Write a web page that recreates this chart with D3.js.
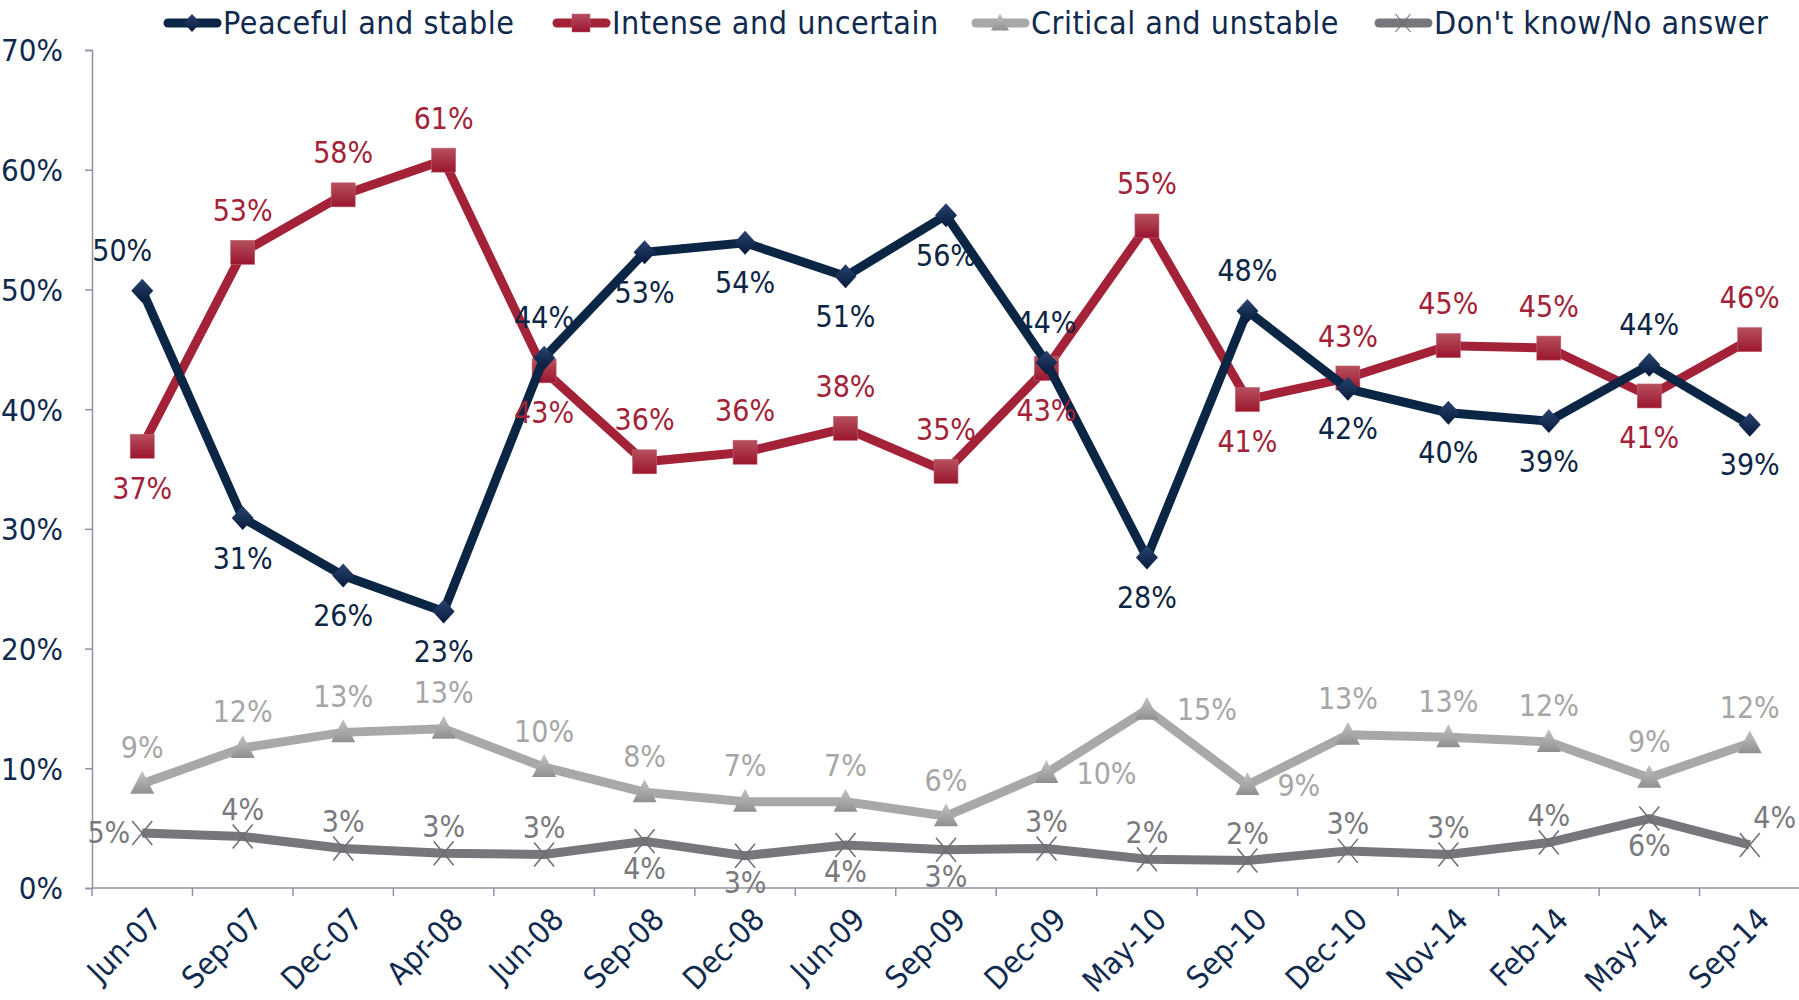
<!DOCTYPE html>
<html>
<head>
<meta charset="utf-8">
<script src="https://cdn.jsdelivr.net/npm/d3@7"></script>
<style>
  body { margin: 0; background: #fff; }
  text { font-family: "Liberation Sans Narrow", "DejaVu Sans Condensed", "Liberation Sans", sans-serif; }
</style>
</head>
<body>
<div id="chart"></div>
<script>
// Survey waves
const categories = ["Jun-07", "Sep-07", "Dec-07", "Apr-08", "Jun-08", "Sep-08", "Dec-08", "Jun-09", "Sep-09",
  "Dec-09", "May-10", "Sep-10", "Dec-10", "Nov-14", "Feb-14", "May-14", "Sep-14"];

// Series values (%)
const peaceful = [49.9, 30.9, 26.1, 23.1, 44.3, 53.1, 53.9, 51.1, 56.2, 43.9, 27.6, 48.2, 41.7, 39.7, 39.0, 43.7, 38.7];
const intense = [36.9, 53.1, 57.9, 60.8, 43.2, 35.6, 36.4, 38.4, 34.8, 43.4, 55.3, 40.8, 42.6, 45.3, 45.1, 41.1, 45.8];
const critical = [8.7, 11.7, 13.0, 13.3, 10.1, 8.0, 7.2, 7.2, 6.0, 9.6, 14.9, 8.6, 12.8, 12.6, 12.2, 9.2, 12.1];
const dontKnow = [4.6, 4.3, 3.3, 2.9, 2.8, 3.9, 2.7, 3.6, 3.2, 3.3, 2.4, 2.3, 3.1, 2.8, 3.8, 5.8, 3.6];

const seriesNames = ["Peaceful and stable", "Intense and uncertain", "Critical and unstable", "Don't know/No answer"];
const yTicks = [0, 10, 20, 30, 40, 50, 60, 70];

// where each data label sits relative to its point
const peacefulPos = ["TL", "B", "B", "B", "T", "B", "B", "B", "B", "T", "B", "T", "B", "B", "B", "T", "B"];
const intensePos = ["B", "T", "T", "T", "B", "T", "T", "T", "T", "B", "T", "B", "T", "T", "T", "B", "T"];
const criticalPos = ["T", "T", "T", "T", "T", "T", "T", "T", "T", "R", "R", "R", "T", "T", "T", "T", "T"];
const dontKnowPos = ["L", "T", "T", "T", "T", "B", "B", "B", "B", "T", "T", "T", "T", "T", "T", "B", "TR"];

const series = [
  { name: seriesNames[0], values: peaceful, pos: peacefulPos, color: "#0b2545", labelColor: "#0b2545", marker: "diamond", off: 40 },
  { name: seriesNames[1], values: intense, pos: intensePos, color: "#a32238", labelColor: "#a32238", marker: "square", off: 42 },
  { name: seriesNames[2], values: critical, pos: criticalPos, color: "#a8a8a8", labelColor: "#a6a6a6", marker: "triangle", off: 36 },
  { name: seriesNames[3], values: dontKnow, pos: dontKnowPos, color: "#76777c", labelColor: "#7a7a7e", marker: "cross", off: 27 }
];

const width = 1799, height = 1000;
const textColor = "#0f2a4e";
const axisColor = "#8d93a5";

const svg = d3.select("#chart").append("svg")
  .attr("width", width)
  .attr("height", height);

// gradients for the markers
const defs = svg.append("defs");
function grad(id, top, bottom) {
  const g = defs.append("linearGradient").attr("id", id)
    .attr("x1", 0).attr("y1", 0).attr("x2", 0).attr("y2", 1);
  g.append("stop").attr("offset", "0%").attr("stop-color", top);
  g.append("stop").attr("offset", "100%").attr("stop-color", bottom);
}
grad("g-diamond", "#2a4470", "#06193a");
grad("g-square", "#b6505f", "#9b152d");
grad("g-triangle", "#c4c4c4", "#8f8f8f");

const x = d3.scaleBand()
  .domain(categories)
  .range([92, 1800])
  .padding(0);

const y = d3.scaleLinear()
  .domain([0, 70])
  .range([888, 50]);

const cx = c => x(c) + x.bandwidth() / 2;

// y axis
const yAxis = svg.append("g")
  .attr("transform", "translate(92,0)")
  .call(d3.axisLeft(y).tickValues(yTicks).tickFormat(d => d + "%").tickSize(7).tickPadding(22));
yAxis.select(".domain").attr("stroke", axisColor).attr("stroke-width", 1.5);
yAxis.selectAll(".tick line").attr("stroke", axisColor).attr("stroke-width", 1.5);
yAxis.selectAll(".tick text")
  .attr("fill", textColor)
  .attr("font-size", 31)
  .attr("dy", "0.35em");

// x axis: line, boundary ticks, rotated labels
const xAxis = svg.append("g");
xAxis.append("line")
  .attr("x1", 92).attr("x2", 1800)
  .attr("y1", y(0)).attr("y2", y(0))
  .attr("stroke", axisColor).attr("stroke-width", 1.5);
xAxis.selectAll(".xtick")
  .data(categories.concat(["end"]))
  .join("line")
  .attr("class", "xtick")
  .attr("x1", (d, i) => 92 + i * x.step())
  .attr("x2", (d, i) => 92 + i * x.step())
  .attr("y1", y(0)).attr("y2", y(0) + 8)
  .attr("stroke", axisColor).attr("stroke-width", 1.5);
xAxis.selectAll(".xlabel")
  .data(categories)
  .join("text")
  .attr("class", "xlabel")
  .attr("transform", d => `translate(${cx(d) + 6},${y(0) + 18}) rotate(-45)`)
  .attr("text-anchor", "end")
  .attr("dy", "0.7em")
  .attr("fill", textColor)
  .attr("font-size", 31)
  .text(d => d);

// marker drawing
function drawMarker(sel, type) {
  if (type === "diamond") {
    sel.append("path").attr("d", "M0,-12L11,0L0,12L-11,0Z").attr("fill", "url(#g-diamond)");
  } else if (type === "square") {
    sel.append("rect").attr("x", -12).attr("y", -12).attr("width", 24).attr("height", 24)
      .attr("fill", "url(#g-square)").attr("stroke", "#c06070").attr("stroke-width", 0.6);
  } else if (type === "triangle") {
    sel.append("path").attr("d", "M0,-13L12,10L-12,10Z").attr("fill", "url(#g-triangle)");
  } else {
    sel.append("path").attr("d", "M-10,-12L10,12M10,-12L-10,12")
      .attr("stroke", "#6d6d72").attr("stroke-width", 1.5).attr("fill", "none");
  }
}

const line = d3.line()
  .x((d, i) => cx(categories[i]))
  .y(d => y(d));

// draw series in reverse so the first series sits on top
const plot = svg.append("g");
series.slice().reverse().forEach(s => {
  const g = plot.append("g");
  g.append("path")
    .datum(s.values)
    .attr("d", line)
    .attr("fill", "none")
    .attr("stroke", s.color)
    .attr("stroke-width", 9)
    .attr("stroke-linejoin", "miter");
  g.selectAll(".pt")
    .data(s.values)
    .join("g")
    .attr("class", "pt")
    .attr("transform", (d, i) => `translate(${cx(categories[i])},${y(d)})`)
    .each(function () { drawMarker(d3.select(this), s.marker); });
});

// data labels
series.forEach(s => {
  plot.append("g").selectAll("text")
    .data(s.values)
    .join("text")
    .attr("x", (d, i) => {
      const p = s.pos[i], px = cx(categories[i]);
      if (p === "R") return px + 30;
      if (p === "L") return px - 12;
      if (p === "TL") return px - 20;
      if (p === "TR") return px + 25;
      return px;
    })
    .attr("y", (d, i) => {
      const p = s.pos[i], py = y(d);
      if (p === "T" || p === "TL" || p === "TR") return py - s.off;
      if (p === "B") return py + s.off;
      return py;
    })
    .attr("text-anchor", (d, i) => s.pos[i] === "R" ? "start" : s.pos[i] === "L" ? "end" : "middle")
    .attr("dominant-baseline", "central")
    .attr("fill", s.labelColor)
    .attr("font-size", 30)
    .text(d => Math.round(d) + "%");
});

// legend
const legendX = [164, 553, 972, 1375];
const legend = svg.append("g");
series.forEach((s, i) => {
  const g = legend.append("g").attr("transform", `translate(${legendX[i]},23)`);
  g.append("line")
    .attr("x1", 4).attr("x2", 53).attr("y1", 0).attr("y2", 0)
    .attr("stroke", s.color).attr("stroke-width", 9).attr("stroke-linecap", "round");
  const m = g.append("g").attr("transform", "translate(28,0) scale(0.75)");
  drawMarker(m, s.marker);
  g.append("text")
    .attr("x", 59).attr("y", 0)
    .attr("dominant-baseline", "central")
    .attr("fill", textColor)
    .attr("font-size", 32)
    .attr("letter-spacing", 0.5)
    .text(s.name);
});
</script>
</body>
</html>
